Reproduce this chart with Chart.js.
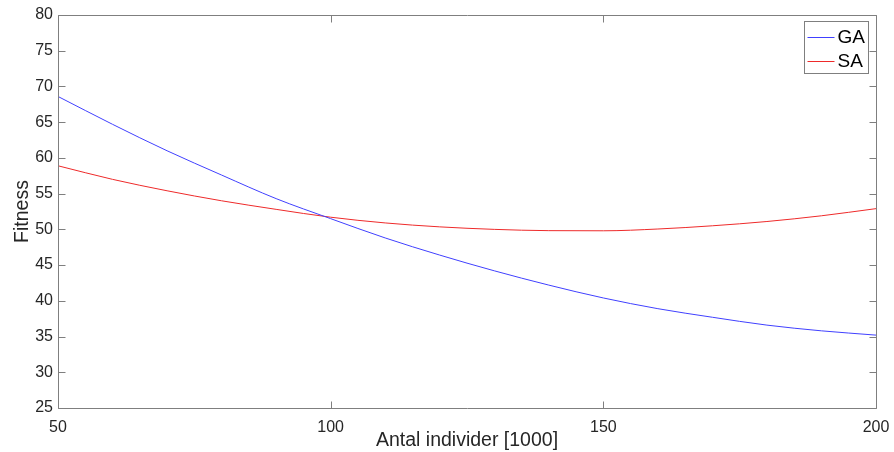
<!DOCTYPE html>
<html>
<head>
<meta charset="utf-8">
<script src="https://cdn.jsdelivr.net/npm/chart.js@4/dist/chart.umd.min.js"></script>
<style>
  html, body { margin: 0; padding: 0; background: #fff; }
  #wrap { width: 894px; height: 452px; position: relative; }
</style>
</head>
<body>
<div id="wrap"><canvas id="c" width="894" height="452"></canvas></div>
<script>
// Data
const xValues = [50, 60, 70, 80, 90, 100, 110, 120, 130, 140, 150, 160, 170, 180, 190, 200];
const gaValues = [68.6, 64.7, 61.0, 57.6, 54.3, 51.5, 48.8, 46.4, 44.2, 42.2, 40.4, 38.9, 37.7, 36.6, 35.8, 35.2];
const saValues = [58.9, 57.0, 55.4, 54.0, 52.8, 51.7, 50.9, 50.35, 50.0, 49.82, 49.8, 50.05, 50.5, 51.1, 51.9, 52.9];
const seriesLabels = ['GA', 'SA'];
const xTicks = [50, 100, 150, 200];
const yTicks = [25, 30, 35, 40, 45, 50, 55, 60, 65, 70, 75, 80];
const xTitle = 'Antal individer [1000]';
const yTitle = 'Fitness';

const toPoints = (vals) => xValues.map((x, i) => ({ x: x, y: vals[i] }));

const axisColor = '#7f7f7f';
const textColor = '#262626';
const fontFamily = "'Liberation Sans', Arial, Helvetica, sans-serif";

const boxPlugin = {
  id: 'matlabBox',
  afterDraw(chart) {
    const { ctx, chartArea: a, scales } = chart;
    const xs = scales.x, ys = scales.y;
    const tl = 7;
    ctx.save();
    ctx.strokeStyle = axisColor;
    ctx.lineWidth = 1;
    const L = Math.round(a.left) + 0.5, R = Math.round(a.right) + 0.5;
    const T = Math.round(a.top) + 0.5, B = Math.round(a.bottom) + 0.5;
    ctx.beginPath();
    ctx.rect(L, T, R - L, B - T);
    ctx.stroke();
    ctx.beginPath();
    yTicks.forEach(v => {
      const p = Math.round(ys.getPixelForValue(v)) + 0.5;
      ctx.moveTo(L, p); ctx.lineTo(L + tl, p);
      ctx.moveTo(R, p); ctx.lineTo(R - tl, p);
    });
    xTicks.forEach(v => {
      const p = Math.round(xs.getPixelForValue(v)) + 0.5;
      ctx.moveTo(p, B); ctx.lineTo(p, B - tl);
      ctx.moveTo(p, T); ctx.lineTo(p, T + tl);
    });
    ctx.stroke();

    // legend
    const lx = 804.5, ly = 21.5, lw = 64, lh = 52;
    ctx.fillStyle = '#fff';
    ctx.fillRect(lx, ly, lw, lh);
    ctx.strokeStyle = axisColor;
    ctx.strokeRect(lx, ly, lw, lh);
    ctx.font = '19px ' + fontFamily;
    ctx.textBaseline = 'middle';
    chart.data.datasets.forEach((ds, i) => {
      const yy = ly + 15 + i * 24;
      ctx.strokeStyle = ds.borderColor;
      ctx.beginPath();
      ctx.moveTo(lx + 3, Math.round(yy) + 0.5);
      ctx.lineTo(lx + 30, Math.round(yy) + 0.5);
      ctx.stroke();
      ctx.fillStyle = '#000';
      ctx.fillText(ds.label, lx + 33, yy + 1);
    });
    ctx.restore();
  }
};

new Chart(document.getElementById('c'), {
  type: 'line',
  data: {
    datasets: [
      { label: seriesLabels[0], data: toPoints(gaValues), borderColor: '#4040ff', borderWidth: 1, pointRadius: 0, tension: 0.4, cubicInterpolationMode: 'monotone', fill: false },
      { label: seriesLabels[1], data: toPoints(saValues), borderColor: '#ee2a2a', borderWidth: 1, pointRadius: 0, tension: 0.4, cubicInterpolationMode: 'monotone', fill: false }
    ]
  },
  options: {
    responsive: false,
    animation: false,
    layout: { padding: { top: 15, right: 18, left: 0, bottom: 0 } },
    plugins: { legend: { display: false }, tooltip: { enabled: false } },
    scales: {
      x: {
        type: 'linear', min: 50, max: 200,
        afterBuildTicks(s) { s.ticks = xTicks.map(v => ({ value: v })); },
        afterFit(s) { s.height = 44; s.paddingLeft = 0; s.paddingRight = 0; },
        grid: { display: false, drawTicks: false },
        border: { display: false },
        ticks: { padding: 10, color: textColor, font: { size: 16, family: fontFamily }, maxRotation: 0, autoSkip: false },
        title: { display: true, text: xTitle, color: textColor, font: { size: 19.5, family: fontFamily }, padding: { top: 0, bottom: 0 } }
      },
      y: {
        type: 'linear', min: 25, max: 80,
        afterBuildTicks(s) { s.ticks = yTicks.map(v => ({ value: v })); },
        afterFit(s) { s.width = 58; s.paddingTop = 0; s.paddingBottom = 0; },
        grid: { display: false, drawTicks: false },
        border: { display: false },
        ticks: { padding: 5, color: textColor, font: { size: 16, family: fontFamily }, autoSkip: false },
        title: { display: true, text: yTitle, color: textColor, font: { size: 19.5, family: fontFamily }, padding: { top: 11, bottom: 0 } }
      }
    }
  },
  plugins: [boxPlugin]
});
</script>
</body>
</html>
